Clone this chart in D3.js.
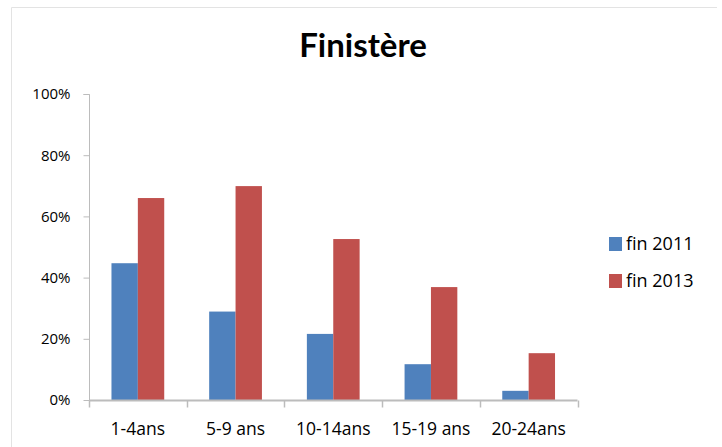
<!DOCTYPE html>
<html>
<head>
<meta charset="utf-8">
<script src="https://cdn.jsdelivr.net/npm/d3@7/dist/d3.min.js"></script>
<style>
  html, body { margin: 0; padding: 0; background: #fff; }
  svg { display: block; }
  text { font-family: "Open Sans", "Liberation Sans", sans-serif; fill: #000; }
</style>
</head>
<body>
<svg id="chart" width="722" height="447"></svg>
<script>
// Age groups and shares per survey period
const categories = ["1-4ans", "5-9 ans", "10-14ans", "15-19 ans", "20-24ans"];
const seriesNames = ["fin 2011", "fin 2013"];
const fin2011 = [0.447, 0.289, 0.216, 0.117, 0.030];
const fin2013 = [0.660, 0.699, 0.526, 0.369, 0.153];
const yTicks = [0, 0.2, 0.4, 0.6, 0.8, 1.0];
const colors = ["#4F81BD", "#C0504D"];

const svg = d3.select("#chart");

// outer chart frame (top and left edges visible)
svg.append("path")
  .attr("d", "M11.5,447 V7.5 H717")
  .attr("fill", "none")
  .attr("stroke", "#e3e3e3")
  .attr("stroke-width", 1);

const plot = { left: 89, right: 577.5, top: 94, bottom: 400 };

const x0 = d3.scaleBand()
  .domain(categories)
  .range([plot.left, plot.right])
  .paddingInner(0.46)
  .paddingOuter(0.23);

const x1 = d3.scaleBand()
  .domain(seriesNames)
  .range([0, x0.bandwidth()]);

const y = d3.scaleLinear().domain([0, 1]).range([plot.bottom, plot.top]);

// Title
svg.append("text")
  .attr("x", 363)
  .attr("y", 57)
  .attr("text-anchor", "middle")
  .style("font-family", "Lato, 'Open Sans', sans-serif")
  .style("font-weight", "bold")
  .style("font-size", "33px")
  .text("Finistère");

// Bars
const data = categories.map((c, i) => ({ cat: c, values: [fin2011[i], fin2013[i]] }));
const groups = svg.append("g").selectAll("g")
  .data(data)
  .join("g")
  .attr("transform", d => `translate(${x0(d.cat)},0)`);

groups.selectAll("rect")
  .data(d => d.values.map((v, j) => ({ name: seriesNames[j], v, j })))
  .join("rect")
  .attr("x", d => x1(d.name))
  .attr("width", x1.bandwidth())
  .attr("y", d => y(d.v))
  .attr("height", d => y(0) - y(d.v))
  .attr("fill", d => colors[d.j]);

// Y axis
const yAxis = d3.axisLeft(y)
  .tickValues(yTicks)
  .tickFormat(d3.format(".0%"))
  .tickSize(6)
  .tickPadding(13);

const yg = svg.append("g")
  .attr("transform", `translate(${plot.left + 0.5},0)`)
  .call(yAxis);
yg.select(".domain").attr("stroke", "#bcbcbc").attr("d", `M-6,${plot.top + 0.5}H0V${plot.bottom}`);
yg.selectAll(".tick line").attr("stroke", "#bcbcbc");
yg.selectAll(".tick text")
  .style("font-size", "15px")
  .style("font-family", "'Liberation Sans Narrow', 'Open Sans', sans-serif")
  .attr("fill", "#000");

// X axis with tick marks on category boundaries
const xg = svg.append("g").attr("transform", `translate(0,${plot.bottom + 0.5})`);
xg.append("line")
  .attr("x1", plot.left).attr("x2", plot.right)
  .attr("stroke", "#bcbcbc").attr("stroke-width", 2);
const step = (plot.right - plot.left) / categories.length;
xg.selectAll("line.tk")
  .data(d3.range(categories.length + 1))
  .join("line")
  .attr("class", "tk")
  .attr("x1", i => Math.round(plot.left + i * step) + 0.5)
  .attr("x2", i => Math.round(plot.left + i * step) + 0.5)
  .attr("y1", 0).attr("y2", 7)
  .attr("stroke", "#bcbcbc").attr("stroke-width", 1.5);
xg.selectAll("text")
  .data(categories)
  .join("text")
  .attr("x", d => x0(d) + x0.bandwidth() / 2)
  .attr("y", 34)
  .attr("text-anchor", "middle")
  .style("font-size", "17.5px")
  .text(d => d);

// Legend
const legend = svg.append("g").selectAll("g")
  .data(seriesNames)
  .join("g")
  .attr("transform", (d, i) => `translate(609,${237 + i * 37})`);
legend.append("rect")
  .attr("width", 13).attr("height", 14)
  .attr("fill", (d, i) => colors[i]);
legend.append("text")
  .attr("x", 17).attr("y", 13)
  .style("font-size", "18px")
  .text(d => d);
</script>
</body>
</html>
